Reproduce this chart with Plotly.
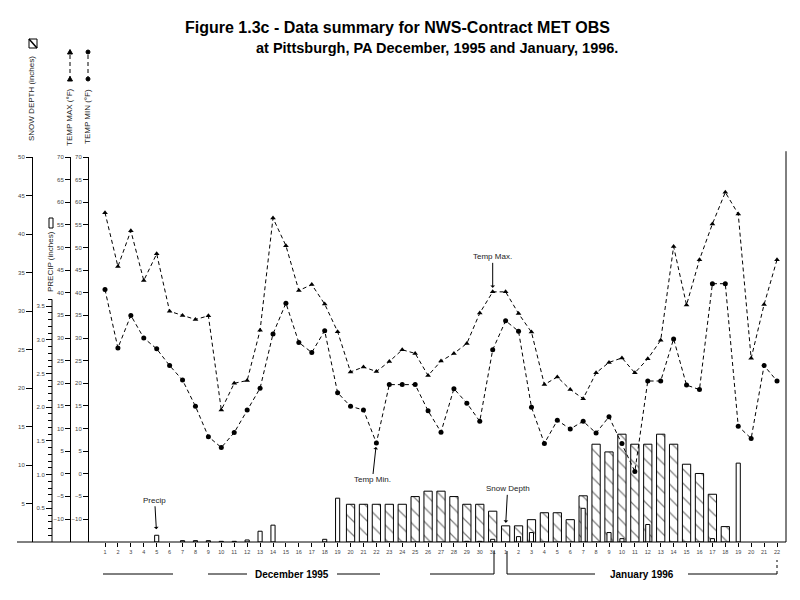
import plotly.graph_objects as go

# ---------------- data ----------------
dec_days = list(range(1, 32))
jan_days = list(range(1, 23))
day_labels = [str(d) for d in dec_days] + [str(d) for d in jan_days]
day_index = list(range(1, len(day_labels) + 1))

temp_max = [57.7, 45.8, 53.7, 42.7, 48.6, 35.9, 35.0, 34.1, 34.9, 14.1,
            20.0, 20.6, 31.7, 56.5, 50.4, 40.5, 41.8, 37.5, 31.4, 22.5,
            23.6, 22.6, 24.8, 27.4, 26.6, 21.7, 24.9, 26.6, 28.8, 35.5,
            40.2,
            40.2, 35.4, 31.3, 19.7, 21.4, 18.6, 16.6, 22.3, 24.6, 25.6,
            22.3, 25.4, 29.5, 50.2, 37.3, 47.3, 55.2, 62.2, 57.4, 25.5,
            37.4, 47.3]

temp_min = [40.7, 27.8, 35.0, 30.0, 27.6, 23.9, 20.7, 14.9, 8.2, 5.8,
            9.1, 14.1, 18.9, 30.9, 37.7, 29.0, 26.8, 31.6, 17.9, 14.9,
            14.1, 6.8, 19.7, 19.7, 19.7, 13.9, 9.2, 18.8, 15.6, 11.6,
            27.4,
            33.8, 31.5, 14.7, 6.7, 11.8, 9.9, 11.6, 9.0, 12.6, 6.7,
            0.5, 20.5, 20.5, 29.8, 19.6, 18.6, 42.0, 42.0, 10.5, 7.8,
            23.9, 20.5]

snow_depth = [0] * 19 + [4.9, 4.9, 4.9, 4.9, 4.9, 5.9, 6.6, 6.6, 5.9, 4.9, 4.9, 4.0] + \
             [2.1, 2.1, 2.9, 3.8, 3.8, 2.9, 6.0, 12.7, 11.7, 14.0, 12.7,
              12.7, 14.0, 12.7, 10.1, 8.9, 6.2, 2.0, 0, 0, 0, 0]

precip = [0, 0, 0, 0, 0.10, 0, 0.02, 0.02, 0.02, 0.01,
          0.01, 0.03, 0.16, 0.25, 0, 0, 0, 0.04, 0.65, 0,
          0, 0, 0, 0, 0, 0, 0, 0, 0.01, 0.01, 0.04,
          0, 0.08, 0.14, 0, 0, 0, 0.50, 0, 0.14, 0.05,
          0, 0.26, 0, 0, 0, 0, 0.05, 0, 1.17, 0, 0, 0]

snow_ticks = [5, 10, 15, 20, 25, 30, 35, 40, 45, 50]
precip_ticks = [0.5, 1.0, 1.5, 2.0, 2.5, 3.0, 3.5]
precip_minor = [round(i * 0.1, 1) for i in range(1, 37)]
temp_ticks = list(range(-10, 71, 5))

# ---------------- layout helpers (screen pixel -> paper) ----------------
OFF = 8  # page body margin offset
W, H = 800, 600
ML, MR, MT, MB = 2, 22, 149, 66
PW, PH = W - ML - MR, H - MT - MB


def px(x):
    return (x - OFF - ML) / PW


def py(y):
    return (H - MB - (y - OFF)) / PH


FONT = "Liberation Sans, Arial, sans-serif"
TICKFONT = dict(family=FONT, size=6, color="#444")

snow_plot = [v if v > 0 else None for v in snow_depth]
precip_plot = [v if v > 0 else None for v in precip]

fig = go.Figure()
fig.add_trace(go.Bar(
    x=day_index, y=snow_plot, yaxis="y", width=0.64,
    marker=dict(color="white", line=dict(color="black", width=1),
                pattern=dict(shape="\\", fgcolor="black", bgcolor="white",
                             size=10, solidity=0.12)),
    name="Snow Depth"))
fig.add_trace(go.Bar(
    x=day_index, y=precip_plot, yaxis="y2", width=0.32,
    marker=dict(color="white", line=dict(color="black", width=1)),
    name="Precip"))
fig.add_trace(go.Scatter(
    x=day_index, y=temp_max, yaxis="y3", mode="lines+markers",
    line=dict(color="black", width=1, dash="4px,3px"),
    marker=dict(symbol="triangle-up", size=5, color="black"),
    name="Temp Max"))
fig.add_trace(go.Scatter(
    x=day_index, y=temp_min, yaxis="y4", mode="lines+markers",
    line=dict(color="black", width=1, dash="4px,3px"),
    marker=dict(symbol="circle", size=5, color="black"),
    name="Temp Min"))

xdom0 = px(88)
axis_common = dict(showgrid=False, zeroline=False, ticks="outside",
                   tickfont=TICKFONT, linecolor="black", linewidth=1,
                   tickcolor="black", side="left", automargin=False)

fig.update_layout(
    width=W, height=H,
    margin=dict(l=ML, r=MR, t=MT, b=MB, autoexpand=False),
    paper_bgcolor="white", plot_bgcolor="white",
    showlegend=False, barmode="overlay",
    font=dict(family=FONT, color="black"),
    xaxis=dict(domain=[xdom0, 1], range=[-0.3155, 53.696],
               tickmode="array", tickvals=day_index, ticktext=day_labels,
               ticks="outside", ticklen=4, tickcolor="black",
               tickfont=dict(family=FONT, size=5.5, color="#444"),
               showgrid=False, zeroline=False, showline=False, automargin=False),
    yaxis=dict(axis_common, range=[0, 50], anchor="free", position=px(32),
               tickmode="array", tickvals=snow_ticks, ticklen=6,
               showline=True),
    yaxis2=dict(axis_common, range=[0, 385 / 67.4], anchor="free",
                position=px(52), overlaying="y",
                tickmode="array", tickvals=precip_ticks,
                ticktext=["%.1f" % v for v in precip_ticks], ticklen=6,
                showline=False,
                minor=dict(tickmode="array", tickvals=precip_minor,
                           ticks="outside", ticklen=4, tickcolor="black")),
    yaxis3=dict(axis_common, range=[-15.08, 70], anchor="free",
                position=px(70), overlaying="y",
                tickmode="array", tickvals=temp_ticks, ticklen=5,
                showline=True),
    yaxis4=dict(axis_common, range=[-15.08, 70], anchor="free",
                position=xdom0, overlaying="y",
                tickmode="array", tickvals=temp_ticks, ticklen=5,
                showline=True),
)

shapes = []
LINE = dict(color="black", width=1)
# baseline and right frame
shapes.append(dict(type="line", xref="paper", yref="paper",
                   x0=px(17), x1=1, y0=0, y1=0, line=LINE))
shapes.append(dict(type="line", xref="paper", yref="paper",
                   x0=1, x1=1, y0=0, y1=1.015, line=LINE))
# precip axis line (only up to 3.6 in)
shapes.append(dict(type="line", xref="paper", yref="y2",
                   x0=px(52), x1=px(52), y0=0, y1=3.6, line=LINE))
# legend symbols
shapes.append(dict(type="rect", xref="paper", yref="paper",
                   x0=px(29), x1=px(37), y0=py(48), y1=py(39),
                   line=LINE, fillcolor="white"))
shapes.append(dict(type="line", xref="paper", yref="paper",
                   x0=px(29), x1=px(37), y0=py(39), y1=py(48),
                   line=dict(color="black", width=1.5)))
shapes.append(dict(type="rect", xref="paper", yref="paper",
                   x0=px(49), x1=px(53), y0=py(228), y1=py(218),
                   line=LINE, fillcolor="white"))
for xc in (70, 88):
    shapes.append(dict(type="line", xref="paper", yref="paper",
                       x0=px(xc), x1=px(xc), y0=py(55), y1=py(77),
                       line=dict(color="black", width=1, dash="4px,3px")))
for yc in (52, 79):
    shapes.append(dict(type="path", xref="paper", yref="paper",
                       path="M %f,%f L %f,%f L %f,%f Z" % (
                           px(67.5), py(yc + 2), px(72.5), py(yc + 2), px(70), py(yc - 2.5)),
                       fillcolor="black", line=LINE))
    shapes.append(dict(type="circle", xref="paper", yref="paper",
                       x0=px(86), x1=px(90), y0=py(yc + 2), y1=py(yc - 2),
                       fillcolor="black", line=LINE))


# month brackets (x in day coordinates)
def dx(xpix):
    return 1 + (xpix - 105) / 12.923


ybr = py(574)
for a, b in [(103, 173), (208, 247), (337, 380), (430, 494)]:
    shapes.append(dict(type="line", xref="x", yref="paper", x0=dx(a), x1=dx(b),
                       y0=ybr, y1=ybr, line=LINE))
shapes.append(dict(type="line", xref="x", yref="paper", x0=dx(494), x1=dx(494),
                   y0=ybr, y1=py(551), line=LINE))
for a, b in [(507, 595), (688, 777)]:
    shapes.append(dict(type="line", xref="x", yref="paper", x0=dx(a), x1=dx(b),
                       y0=ybr, y1=ybr, line=LINE))
shapes.append(dict(type="line", xref="x", yref="paper", x0=dx(507), x1=dx(507),
                   y0=ybr, y1=py(551), line=LINE))
shapes.append(dict(type="line", xref="x", yref="paper", x0=dx(777), x1=dx(777),
                   y0=ybr, y1=py(560), line=dict(color="black", width=1, dash="dot")))
fig.update_layout(shapes=shapes)

CENTER = dict(xanchor="center", yanchor="middle")
ann = []
ann.append(dict(CENTER, xref="paper", yref="paper", x=px(397), y=py(27), showarrow=False,
                text="<b>Figure 1.3c - Data summary for NWS-Contract MET OBS</b>",
                font=dict(family=FONT, size=16, color="black")))
ann.append(dict(CENTER, xref="paper", yref="paper", x=px(437), y=py(48), showarrow=False,
                text="<b>at Pittsburgh, PA December, 1995 and January, 1996.</b>",
                font=dict(family=FONT, size=14.5, color="black")))
for txt, xc, yc in [("SNOW DEPTH (inches)", 32, 99), ("PRECIP (inches)", 50, 262),
                    ("TEMP MAX (°F)", 70, 117), ("TEMP MIN (°F)", 88, 117)]:
    ann.append(dict(CENTER, xref="paper", yref="paper", x=px(xc), y=py(yc), showarrow=False,
                    text=txt, textangle=-90,
                    font=dict(family=FONT, size=8, color="#222")))
ann.append(dict(CENTER, xref="x", yref="paper", x=dx(292), y=py(574), showarrow=False,
                text="<b>December 1995</b>", font=dict(family=FONT, size=10, color="black")))
ann.append(dict(CENTER, xref="x", yref="paper", x=dx(642), y=py(574), showarrow=False,
                text="<b>January 1996</b>", font=dict(family=FONT, size=10, color="black")))

arrow_common = dict(showarrow=True, arrowhead=1, arrowsize=0.8, arrowwidth=1,
                    arrowcolor="black", font=dict(family=FONT, size=8, color="#222"))
ann.append(dict(arrow_common, xref="x", yref="y3", x=31, y=temp_max[30],
                text="Temp Max.", ax=0, ay=-35, standoff=4))
ann.append(dict(arrow_common, xref="x", yref="y4", x=22, y=temp_min[21],
                text="Temp Min.", ax=-4, ay=37, standoff=4))
ann.append(dict(arrow_common, xref="x", yref="y2", x=5, y=precip[4],
                text="Precip", ax=-2, ay=-35, standoff=6))
ann.append(dict(arrow_common, xref="x", yref="y", x=32, y=snow_depth[31],
                text="Snow Depth", ax=2, ay=-37, standoff=3))
fig.update_layout(annotations=ann)

fig.write_html("out.html")
